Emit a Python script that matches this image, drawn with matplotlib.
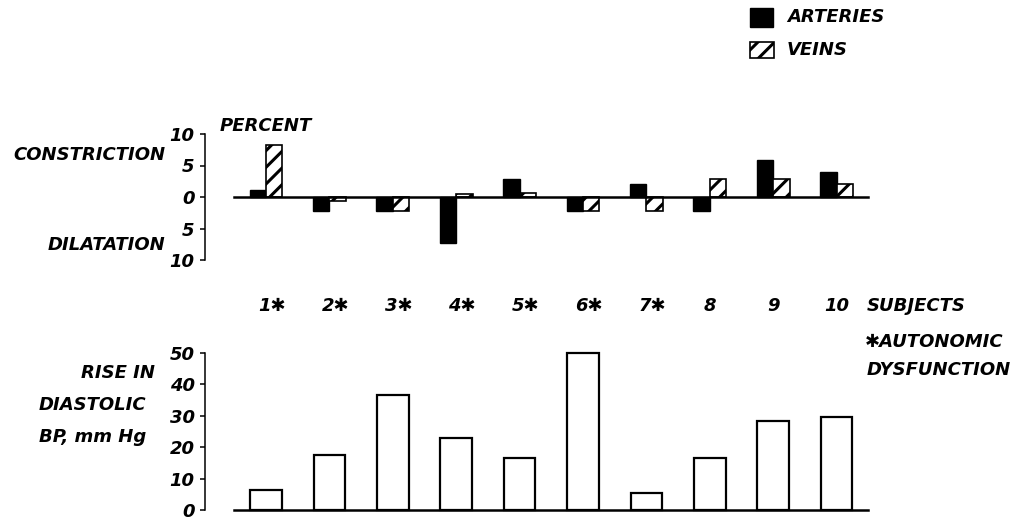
import matplotlib
matplotlib.use("Agg")
import matplotlib.pyplot as plt
from matplotlib.patches import Rectangle

# Subjects (asterisk = autonomic dysfunction)
subjects = ["1", "2", "3", "4", "5", "6", "7", "8", "9", "10"]
autonomic = [True, True, True, True, True, True, True, False, False, False]

# Percent change in vessel calibre: + constriction, - dilatation
arteries = [1.1, -2.2, -2.2, -7.3, 2.9, -2.2, 2.1, -2.2, 5.8, 3.9]
veins = [8.2, -0.7, -2.2, 0.5, 0.6, -2.2, -2.2, 2.9, 2.9, 2.0]

# Rise in diastolic blood pressure, mm Hg
bp_rise = [6.5, 17.5, 36.5, 23, 16.5, 50, 5.5, 16.5, 28.5, 29.5]

top_ticks = [10, 5, 0, -5, -10]
bottom_ticks = [0, 10, 20, 30, 40, 50]

STAR = "\u2731"
plt.rcParams["hatch.linewidth"] = 2.2
FS = 13
FONT = dict(fontweight="bold", fontstyle="italic", fontsize=FS,
            family=["DejaVu Sans"], color="black")

W, H = 1016, 521
fig = plt.figure(figsize=(W / 100, H / 100), dpi=100)
fig.patch.set_facecolor("white")


def fx(p):
    return p / W


def fy(p):
    return 1 - p / H


# horizontal layout: subject 1 centre and spacing in pixels
x0_pix, step_pix = 266.0, 63.4
left_pix, right_pix = 205.0, 880.0
xlim = (1 + (left_pix - x0_pix) / step_pix, 1 + (right_pix - x0_pix) / step_pix)

x = list(range(1, len(subjects) + 1))

# ---- top panel: vessel response ----
ax1 = fig.add_axes([fx(left_pix), fy(260), fx(right_pix - left_pix), (260 - 134) / H])
bw = 0.26
ax1.bar([v - bw / 2 for v in x], arteries, width=bw, color="black",
        edgecolor="black", linewidth=1.0, clip_on=False, zorder=3)
ax1.bar([v + bw / 2 for v in x], veins, width=bw, color="white",
        edgecolor="black", linewidth=1.2, hatch="//", clip_on=False, zorder=3)
ax1.plot([0.5, 10.5], [0, 0], color="black", lw=1.8, clip_on=False, zorder=4)
ax1.set_xlim(*xlim)
ax1.set_ylim(-10, 10)

# ---- bottom panel: blood pressure ----
b_top, b_bot = 353, 510
ax2 = fig.add_axes([fx(left_pix), fy(b_bot), fx(right_pix - left_pix), (b_bot - b_top) / H])
ax2.bar(x, bp_rise, width=0.5, color="white", edgecolor="black",
        linewidth=1.6, clip_on=False, zorder=3)
ax2.plot([0.5, 10.5], [0, 0], color="black", lw=1.8, clip_on=False, zorder=4)
ax2.set_xlim(*xlim)
ax2.set_ylim(0, 50)

for ax, ticks in ((ax1, top_ticks), (ax2, bottom_ticks)):
    for side in ("top", "right", "bottom"):
        ax.spines[side].set_visible(False)
    ax.spines["left"].set_linewidth(1.1)
    ax.set_xticks([])
    ax.set_yticks(ticks)
    ax.set_yticklabels([str(abs(t)) for t in ticks])
    ax.tick_params(axis="y", direction="out", length=3.5, width=1.1, pad=4)
    for lab in ax.get_yticklabels():
        lab.set_fontweight("bold")
        lab.set_fontstyle("italic")
        lab.set_fontsize(FS)
    ax.patch.set_alpha(0)

# axis captions
fig.text(fx(165), fy(155), "CONSTRICTION", ha="right", va="center", **FONT)
fig.text(fx(165), fy(245), "DILATATION", ha="right", va="center", **FONT)
fig.text(fx(220), fy(126), "PERCENT", ha="left", va="center", **FONT)

fig.text(fx(155), fy(373), "RISE IN", ha="right", va="center", **FONT)
fig.text(fx(39), fy(405), "DIASTOLIC", ha="left", va="center", **FONT)
fig.text(fx(39), fy(437), "BP, mm Hg", ha="left", va="center", **FONT)

# subject numbers between the panels
for xi, name, star in zip(x, subjects, autonomic):
    txt = name + (STAR if star else "")
    fig.text(fx(x0_pix + (xi - 1) * step_pix + (6 if star else 0)), fy(306), txt,
             ha="center", va="center", **FONT)
fig.text(fx(867), fy(306), "SUBJECTS", ha="left", va="center", **FONT)
fig.text(fx(865), fy(342), STAR + "AUTONOMIC", ha="left", va="center", **FONT)
fig.text(fx(867), fy(370), "DYSFUNCTION", ha="left", va="center", **FONT)

# legend
fig.add_artist(Rectangle((fx(750), fy(27)), fx(23), 19 / H, transform=fig.transFigure,
                         facecolor="black", edgecolor="black"))
fig.add_artist(Rectangle((fx(750), fy(58)), fx(24), 16 / H, transform=fig.transFigure,
                         facecolor="white", edgecolor="black", hatch="//", linewidth=1.2))
fig.text(fx(787), fy(17), "ARTERIES", ha="left", va="center", **FONT)
fig.text(fx(787), fy(50), "VEINS", ha="left", va="center", **FONT)

fig.savefig("out.png", dpi=100, facecolor="white")
